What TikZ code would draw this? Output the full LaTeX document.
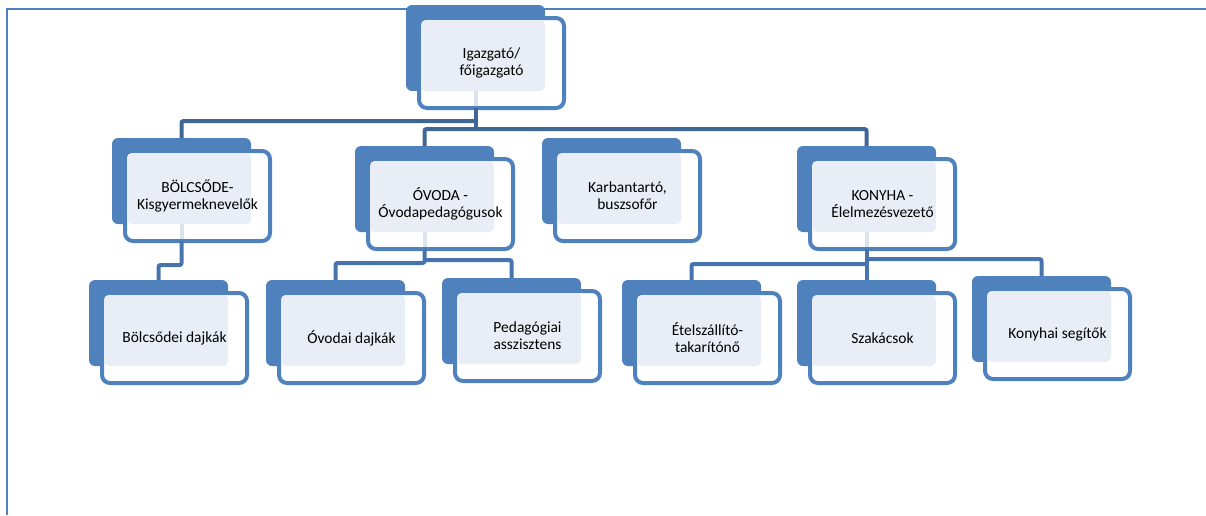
\documentclass[tikz,border=0pt]{standalone}
\usepackage{fontspec}
\setmainfont{Carlito}
\usetikzlibrary{calc}
\definecolor{nblue}{HTML}{4F81BD}
\definecolor{nlight}{HTML}{E9EEF6}
\definecolor{busdark}{HTML}{3E6696}
\definecolor{buslow}{HTML}{4874AE}
\definecolor{stubc}{HTML}{DDE3EE}
\newcommand\orgbox[4]{%
  \node[backbox, anchor=north west] (#1-b) at (#2,#3) {};
  \node[frontbox, anchor=north west] (#1) at ({#2+13},{#3+13}) {};
  \node[lightbox, anchor=south east] (#1-l) at (#1-b.south east) {};
  \node[lbl] (#1-t) at (#1.center) {#4};
}
\begin{document}
\begin{tikzpicture}[x=0.75pt,y=-0.75pt,
  backbox/.style={fill=nblue, draw=none, rounded corners=4.5pt,
    minimum width=139*0.75pt, minimum height=86*0.75pt, inner sep=0pt, outer sep=0pt},
  frontbox/.style={fill=white, draw=nblue, line width=3pt, rounded corners=6pt,
    minimum width=145*0.75pt, minimum height=90*0.75pt, inner sep=0pt, outer sep=0pt},
  lightbox/.style={fill=nlight, draw=none, rounded corners=3.5pt,
    minimum width=124*0.75pt, minimum height=71*0.75pt, inner sep=0pt, outer sep=0pt},
  lbl/.style={font=\fontsize{11.6}{12.8}\selectfont, align=center, text=black, inner sep=0pt},
  bus/.style={draw=busdark, line width=3pt, rounded corners=1.5pt},
  conn/.style={draw=buslow, line width=3pt, rounded corners=1.5pt},
  stub/.style={draw=stubc, line width=3pt},
  frame/.style={draw=nblue, line width=2.2pt}]
\useasboundingbox (0,0) rectangle (1206,515);
% frame
\coordinate (fr-tr) at (1206,9);
\coordinate (fr-tl) at (7,9);
\coordinate (fr-bl) at (7,515);
\draw[frame] (fr-tr) -- (fr-tl) -- (fr-bl);
% bus levels
\coordinate (busA) at (0,121);
\coordinate (busB) at (0,129);
\coordinate (busC) at (0,265);
\coordinate (busD) at (0,263);
\coordinate (busE) at (0,260);
\coordinate (busF) at (0,264);
\coordinate (busG) at (0,259);
% boxes
\orgbox{top}{406}{5}{Igazgató/\\főigazgató}
\orgbox{bol}{112}{138}{BÖLCSŐDE-\\Kisgyermeknevelők}
\orgbox{ovo}{355}{146}{ÓVODA -\\Óvodapedagógusok}
\orgbox{kar}{542}{138}{Karbantartó,\\buszsofőr}
\orgbox{kon}{797}{146}{KONYHA -\\Élelmezésvezető}
\orgbox{bd}{89}{280}{Bölcsődei dajkák}
\orgbox{od}{266}{280}{Óvodai dajkák}
\orgbox{ped}{442}{278}{Pedagógiai\\asszisztens}
\orgbox{etel}{622}{280}{Ételszállító-\\takarítónő}
\orgbox{sza}{797}{280}{Szakácsok}
\orgbox{kons}{972}{276}{Konyhai segítők}
% light stubs
\foreach \n in {top,bol,ovo,kon}{
  \draw[stub] (\n-b.south) -- ($(\n-b.south |- \n.south)+(0,-2)$);
}
% top level connectors
\draw[bus] (top-b.south |- top.south) -- (top-b.south |- busB);
\draw[bus] (top-b.south |- busA) -| (bol-b.north);
\draw[bus] (ovo-b.north) |- (busB -| kon-b.north) -- (kon-b.north);
% lower connectors
\draw[conn] (bol-b.south |- bol.south) |- (busC -| bd-b.north) -- (bd-b.north);
\draw[conn] (ovo-b.south |- ovo.south) -- (ovo-b.south |- busD) -| (od-b.north);
\draw[conn] (ovo-b.south |- busE) -| (ped-b.north);
\draw[conn] (kon-b.south |- kon.south) -- (sza-b.north);
\draw[conn] (kon-b.south |- busF) -| (etel-b.north);
\draw[conn] (kon-b.south |- busG) -| (kons-b.north);
\end{tikzpicture}
\end{document}
